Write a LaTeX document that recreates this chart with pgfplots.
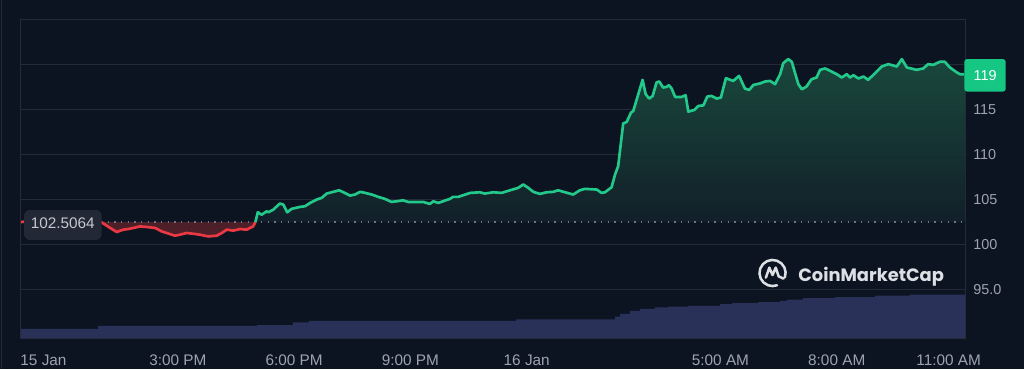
\documentclass[border=0pt]{standalone}
\usepackage{fontspec}
\setmainfont{Liberation Sans}
\newfontfamily\cmcfont{Poppins}
\usepackage{pgfplots}
\pgfplotsset{compat=1.18}
\definecolor{bgc}{HTML}{0D1421}
\definecolor{gridc}{HTML}{232B38}
\definecolor{labc}{HTML}{9DA3AF}
\definecolor{volc}{HTML}{293159}
\definecolor{redline}{HTML}{EA3943}
\definecolor{redfill}{HTML}{4C1F29}
\definecolor{greenline}{HTML}{22C98A}
\definecolor{gtop}{HTML}{1B4E3F}
\definecolor{gbot}{HTML}{12212A}
\definecolor{dotc}{HTML}{6C7382}
\definecolor{boxgrey}{HTML}{222835}
\definecolor{boxtext}{HTML}{C4C8D0}
\definecolor{cmctext}{HTML}{DCDFE4}
\definecolor{pricebox}{HTML}{16C784}
\begin{document}
\begin{tikzpicture}
\fill[bgc] (0,0) rectangle (768pt,276.75pt);
\draw[gridc, line width=0.9pt] (1.3pt,0) -- (1.3pt,276.75pt);
\begin{axis}[
  at={(15.75pt,23.25pt)}, anchor=south west,
  scale only axis, width=708pt, height=239.25pt,
  xmin=10.95, xmax=35.31, ymin=89.67, ymax=125,
  axis line style={gridc, line width=0.75pt},
  ytick={95,100,105,110,115,120},
  yticklabels={95.0,100,105,110,115,{}},
  yticklabel pos=right,
  xtick={11.53,15,18,21,24,29,32,34.89},
  xticklabels={15 Jan,3:00 PM,6:00 PM,9:00 PM,16 Jan,5:00 AM,8:00 AM,11:00 AM},
  major tick length=0pt,
  ymajorgrids, grid style={gridc, line width=0.75pt},
  tick label style={text=labc},
  xticklabel style={font=\fontsize{11.5}{12}\selectfont, anchor=base, yshift=-20.25pt},
  yticklabel style={font=\fontsize{10.8}{12}\selectfont, anchor=west, inner sep=0pt, xshift=6pt},
  clip=false,
]
% volume
\addplot[const plot, draw=none, fill=volc] coordinates {
(10.95,89.67)(10.95,90.67)(12.94,91.00)(17.04,91.11)(17.97,91.41)(18.38,91.56)(23.72,91.74)
(26.28,92.03)(26.41,92.33)(26.66,92.67)(26.92,92.89)(27.31,93.06)(27.65,93.14)(28.16,93.22)
(28.99,93.41)(29.30,93.52)(29.97,93.63)(30.54,93.78)(30.72,93.92)(31.13,94.08)(31.95,94.19)
(32.99,94.37)(33.89,94.48)(35.31,94.48)(35.31,89.67)} -- cycle;
% red area
\addplot[draw=none, fill=redfill] coordinates {
(13.00,102.5064)(13.03,102.48)(13.25,101.86)(13.42,101.41)(13.59,101.67)(13.72,101.74)(13.85,101.86)
(14.02,102.03)(14.19,101.97)(14.41,101.86)(14.58,101.48)(14.71,101.30)(14.92,101.00)(15.05,101.11)
(15.22,101.30)(15.39,101.22)(15.57,101.11)(15.78,100.92)(16.00,101.00)(16.13,101.30)(16.26,101.67)
(16.43,101.56)(16.60,101.74)(16.77,101.67)(16.94,102.03)(17.00,102.5064)} -- cycle;
% green area
\addplot[draw=none, top color=gtop, bottom color=gbot, fill opacity=0.9] coordinates {
(17.00,102.5064)(17.06,103.59)(17.16,103.33)(17.29,103.70)(17.33,103.59)(17.46,103.89)(17.63,104.56)(17.72,104.44)
(17.82,103.59)(17.93,103.97)(18.15,104.19)(18.28,104.26)(18.41,104.63)(18.58,105.00)(18.71,105.19)(18.84,105.67)
(19.01,105.86)(19.16,106.03)(19.27,105.81)(19.44,105.44)(19.57,105.56)(19.70,105.86)(19.83,105.74)(20.00,105.56)
(20.17,105.30)(20.34,105.08)(20.51,104.74)(20.64,104.81)(20.81,104.92)(20.94,104.74)(21.16,104.74)(21.33,104.74)
(21.50,104.52)(21.59,104.81)(21.72,104.63)(21.89,104.89)(22.02,105.08)(22.10,105.30)(22.23,105.30)(22.36,105.48)
(22.54,105.74)(22.79,105.81)(22.92,105.67)(23.14,105.81)(23.35,105.74)(23.57,106.03)(23.78,106.30)(23.91,106.67)
(24.04,106.30)(24.17,105.86)(24.34,105.63)(24.51,105.81)(24.69,105.86)(24.81,106.03)(24.99,105.81)(25.20,105.56)
(25.37,106.03)(25.50,106.19)(25.81,106.11)(25.93,105.74)(26.02,105.81)(26.19,106.37)(26.28,107.78)(26.36,108.70)
(26.49,113.44)(26.58,113.59)(26.69,114.63)(26.75,114.81)(26.99,118.26)(27.07,116.67)(27.16,116.19)(27.25,116.48)
(27.35,117.97)(27.42,118.08)(27.52,117.41)(27.61,117.48)(27.67,117.67)(27.74,117.30)(27.83,116.37)(28.00,116.37)
(28.10,116.56)(28.17,114.74)(28.32,114.92)(28.43,115.37)(28.56,115.44)(28.66,116.41)(28.77,116.48)(28.90,116.19)
(29.01,116.30)(29.14,118.44)(29.33,118.14)(29.48,118.70)(29.63,117.30)(29.74,117.14)(29.85,117.70)(30.02,117.86)
(30.15,118.08)(30.28,118.14)(30.41,117.78)(30.54,118.89)(30.62,120.11)(30.75,120.56)(30.84,120.26)(30.92,119.08)
(31.01,117.78)(31.10,117.22)(31.22,117.52)(31.35,118.33)(31.48,118.52)(31.57,119.37)(31.70,119.52)(31.83,119.26)
(32.00,118.89)(32.13,118.52)(32.26,118.89)(32.34,118.52)(32.43,118.78)(32.56,118.41)(32.69,118.63)(32.81,118.26)
(32.99,119.00)(33.16,119.74)(33.33,120.00)(33.55,119.74)(33.68,120.56)(33.81,119.63)(34.06,119.37)(34.23,119.52)
(34.36,120.00)(34.49,119.92)(34.66,120.26)(34.79,120.26)(34.92,119.63)(35.10,119.08)(35.18,118.89)(35.29,118.89)
(35.31,118.89)(35.31,102.5064)} -- cycle;
% baseline
\addplot[dotc, line width=1pt, dash pattern=on 1pt off 4pt] coordinates {(10.95,102.5064)(35.31,102.5064)};
% red line
\addplot[redline, line width=2pt, line join=round] coordinates {
(10.95,102.51)(11.44,102.78)(12.08,103.03)(12.60,102.78)(13.03,102.48)(13.25,101.86)(13.42,101.41)(13.59,101.67)
(13.72,101.74)(13.85,101.86)(14.02,102.03)(14.19,101.97)(14.41,101.86)(14.58,101.48)(14.71,101.30)(14.92,101.00)
(15.05,101.11)(15.22,101.30)(15.39,101.22)(15.57,101.11)(15.78,100.92)(16.00,101.00)(16.13,101.30)(16.26,101.67)
(16.43,101.56)(16.60,101.74)(16.77,101.67)(16.94,102.03)(17.00,102.51)};
% green line
\addplot[greenline, line width=2pt, line join=round] coordinates {
(17.00,102.51)(17.06,103.59)(17.16,103.33)(17.29,103.70)(17.33,103.59)(17.46,103.89)(17.63,104.56)(17.72,104.44)
(17.82,103.59)(17.93,103.97)(18.15,104.19)(18.28,104.26)(18.41,104.63)(18.58,105.00)(18.71,105.19)(18.84,105.67)
(19.01,105.86)(19.16,106.03)(19.27,105.81)(19.44,105.44)(19.57,105.56)(19.70,105.86)(19.83,105.74)(20.00,105.56)
(20.17,105.30)(20.34,105.08)(20.51,104.74)(20.64,104.81)(20.81,104.92)(20.94,104.74)(21.16,104.74)(21.33,104.74)
(21.50,104.52)(21.59,104.81)(21.72,104.63)(21.89,104.89)(22.02,105.08)(22.10,105.30)(22.23,105.30)(22.36,105.48)
(22.54,105.74)(22.79,105.81)(22.92,105.67)(23.14,105.81)(23.35,105.74)(23.57,106.03)(23.78,106.30)(23.91,106.67)
(24.04,106.30)(24.17,105.86)(24.34,105.63)(24.51,105.81)(24.69,105.86)(24.81,106.03)(24.99,105.81)(25.20,105.56)
(25.37,106.03)(25.50,106.19)(25.81,106.11)(25.93,105.74)(26.02,105.81)(26.19,106.37)(26.28,107.78)(26.36,108.70)
(26.49,113.44)(26.58,113.59)(26.69,114.63)(26.75,114.81)(26.99,118.26)(27.07,116.67)(27.16,116.19)(27.25,116.48)
(27.35,117.97)(27.42,118.08)(27.52,117.41)(27.61,117.48)(27.67,117.67)(27.74,117.30)(27.83,116.37)(28.00,116.37)
(28.10,116.56)(28.17,114.74)(28.32,114.92)(28.43,115.37)(28.56,115.44)(28.66,116.41)(28.77,116.48)(28.90,116.19)
(29.01,116.30)(29.14,118.44)(29.33,118.14)(29.48,118.70)(29.63,117.30)(29.74,117.14)(29.85,117.70)(30.02,117.86)
(30.15,118.08)(30.28,118.14)(30.41,117.78)(30.54,118.89)(30.62,120.11)(30.75,120.56)(30.84,120.26)(30.92,119.08)
(31.01,117.78)(31.10,117.22)(31.22,117.52)(31.35,118.33)(31.48,118.52)(31.57,119.37)(31.70,119.52)(31.83,119.26)
(32.00,118.89)(32.13,118.52)(32.26,118.89)(32.34,118.52)(32.43,118.78)(32.56,118.41)(32.69,118.63)(32.81,118.26)
(32.99,119.00)(33.16,119.74)(33.33,120.00)(33.55,119.74)(33.68,120.56)(33.81,119.63)(34.06,119.37)(34.23,119.52)
(34.36,120.00)(34.49,119.92)(34.66,120.26)(34.79,120.26)(34.92,119.63)(35.10,119.08)(35.18,118.89)(35.29,118.89)};
\end{axis}
% baseline label box
\fill[boxgrey, rounded corners=4.5pt] (18pt,96.75pt) rectangle (76.3pt,119.25pt);
\node[text=boxtext, font=\fontsize{11.5}{12}\selectfont, inner sep=0pt] at (47.1pt,109.6pt) {102.5064};
% current price box
\fill[pricebox, rounded corners=2.25pt] (723.2pt,208pt) rectangle (754.3pt,232.5pt);
\node[text=white, font=\fontsize{10.8}{12}\selectfont, inner sep=0pt] at (738.8pt,220.2pt) {119};
% watermark
\begin{scope}[shift={(579.4pt,72pt)}, cmctext, line width=1.9pt, line cap=round, line join=round]
  \draw (-20:9.8pt) arc[start angle=-20, end angle=290, radius=9.8pt];
  \draw (-5pt,-3.5pt) -- (-2.4pt,4pt) -- (0pt,-1.5pt) -- (2.4pt,4pt) -- (4.6pt,-2.5pt) -- (8.2pt,-4.2pt);
\end{scope}
\node[anchor=base west, text=cmctext, font=\cmcfont\bfseries\fontsize{13.4}{15}\selectfont, inner sep=0pt] at (598.5pt,65.6pt) {CoinMarketCap};
\pgfresetboundingbox
\path (0,0) rectangle (768pt,276.75pt);
\end{tikzpicture}
\end{document}
